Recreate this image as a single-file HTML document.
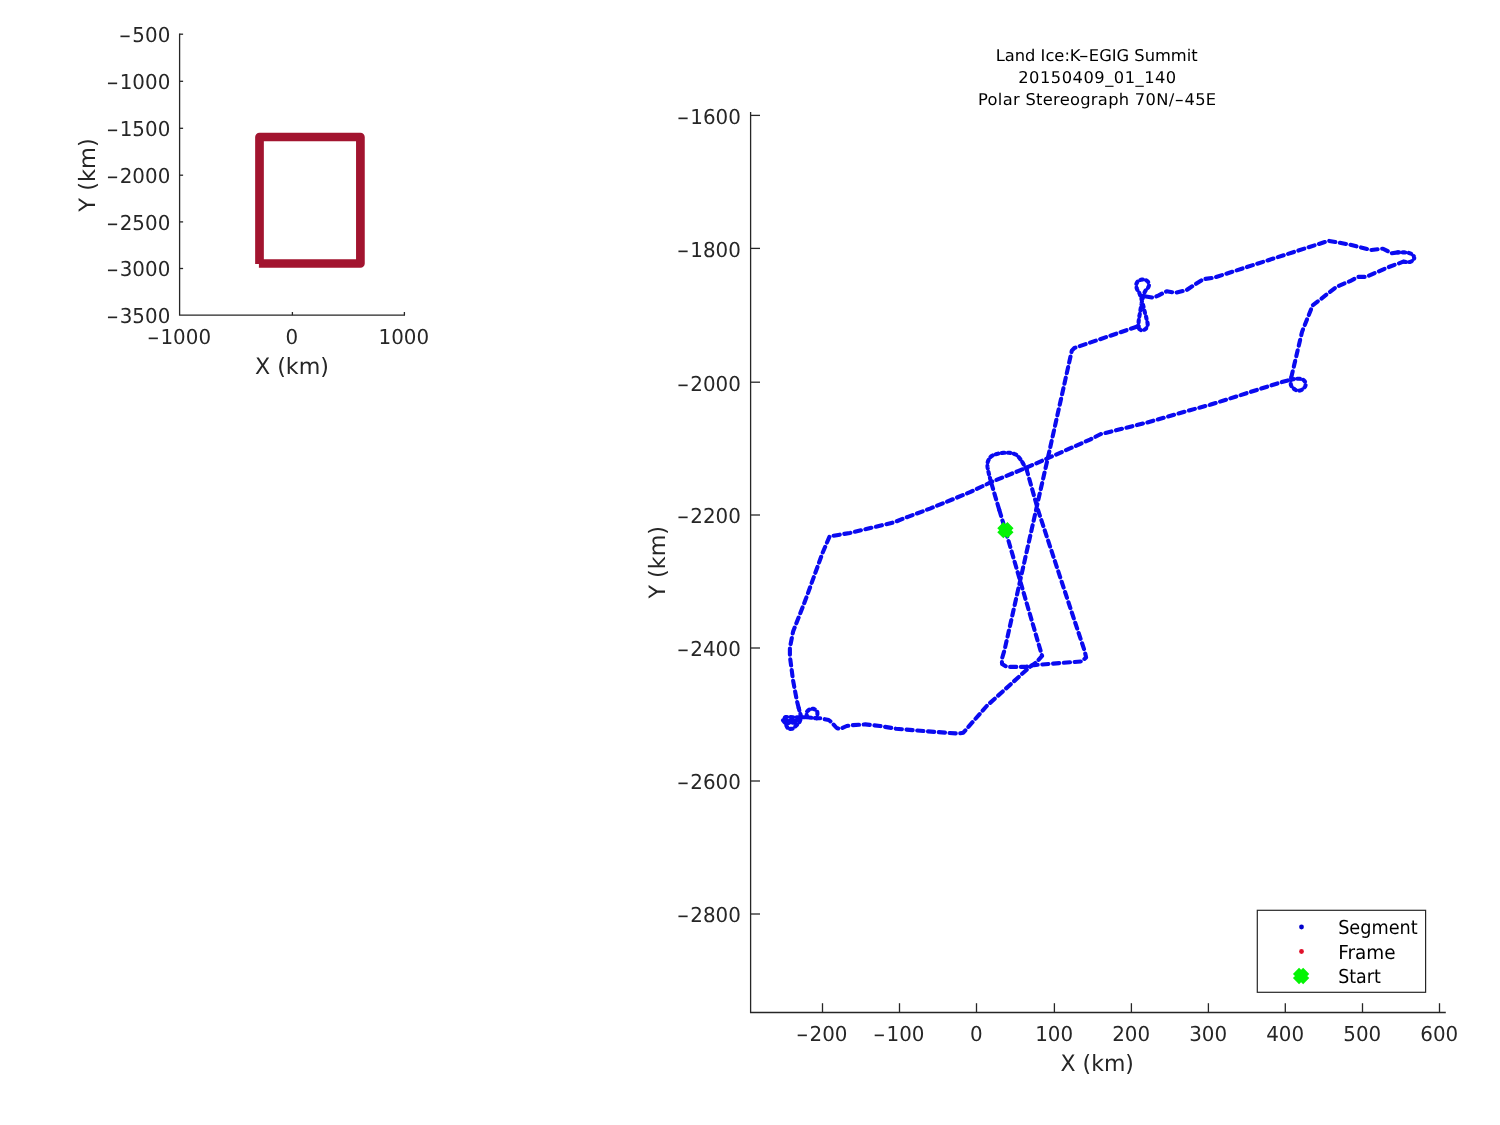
<!DOCTYPE html>
<html lang="en"><head><meta charset="utf-8"><title>Land Ice:K-EGIG Summit 20150409_01_140</title>
<style>html,body{margin:0;padding:0;background:#fff}body{width:1500px;height:1125px;overflow:hidden}svg{display:block}text{font-family:"DejaVu Sans", "Liberation Sans", sans-serif;fill:#262626;text-rendering:geometricPrecision}.t{font-size:20.6px}.l{font-size:22.5px}.ti{font-size:16.3px;fill:#000}.lg{font-size:19.2px;fill:#000}</style></head><body>
<svg width="1500" height="1125" viewBox="0 0 1500 1125">
<rect width="1500" height="1125" fill="#fff"/>
<g stroke="#262626" stroke-width="1.3" fill="none">
<path d="M179.6 33.5V315.2H405"/>
<path d="M179.6 34.2h3.5"/>
<path d="M179.6 81.3h3.5"/>
<path d="M179.6 128.3h3.5"/>
<path d="M179.6 175.2h3.5"/>
<path d="M179.6 221.9h3.5"/>
<path d="M179.6 268.5h3.5"/>
<path d="M292.4 315.2v-3.2"/>
<path d="M404.4 315.2v-3.2"/>
</g>
<text class="t" x="170.30" y="42.10" text-anchor="end"><tspan textLength="12.61" lengthAdjust="spacingAndGlyphs">-</tspan><tspan dx="0.9" textLength="37.94" lengthAdjust="spacingAndGlyphs">500</tspan></text>
<text class="t" x="170.30" y="89.20" text-anchor="end"><tspan textLength="12.61" lengthAdjust="spacingAndGlyphs">-</tspan><tspan dx="0.9" textLength="50.59" lengthAdjust="spacingAndGlyphs">1000</tspan></text>
<text class="t" x="170.30" y="136.20" text-anchor="end"><tspan textLength="12.61" lengthAdjust="spacingAndGlyphs">-</tspan><tspan dx="0.9" textLength="50.59" lengthAdjust="spacingAndGlyphs">1500</tspan></text>
<text class="t" x="170.30" y="183.10" text-anchor="end"><tspan textLength="12.61" lengthAdjust="spacingAndGlyphs">-</tspan><tspan dx="0.9" textLength="50.59" lengthAdjust="spacingAndGlyphs">2000</tspan></text>
<text class="t" x="170.30" y="229.80" text-anchor="end"><tspan textLength="12.61" lengthAdjust="spacingAndGlyphs">-</tspan><tspan dx="0.9" textLength="50.59" lengthAdjust="spacingAndGlyphs">2500</tspan></text>
<text class="t" x="170.30" y="276.40" text-anchor="end"><tspan textLength="12.61" lengthAdjust="spacingAndGlyphs">-</tspan><tspan dx="0.9" textLength="50.59" lengthAdjust="spacingAndGlyphs">3000</tspan></text>
<text class="t" x="170.30" y="323.10" text-anchor="end"><tspan textLength="12.61" lengthAdjust="spacingAndGlyphs">-</tspan><tspan dx="0.9" textLength="50.59" lengthAdjust="spacingAndGlyphs">3500</tspan></text>
<text class="t" x="179.00" y="343.80" text-anchor="middle"><tspan textLength="12.61" lengthAdjust="spacingAndGlyphs">-</tspan><tspan dx="0.9" textLength="50.59" lengthAdjust="spacingAndGlyphs">1000</tspan></text>
<text class="t" x="291.80" y="343.80" text-anchor="middle"><tspan textLength="12.65" lengthAdjust="spacingAndGlyphs">0</tspan></text>
<text class="t" x="403.80" y="343.80" text-anchor="middle"><tspan textLength="50.59" lengthAdjust="spacingAndGlyphs">1000</tspan></text>
<text class="l" x="254.94" y="373.60" textLength="73.97" lengthAdjust="spacingAndGlyphs">X (km)</text>
<g transform="translate(94.8,211.7) rotate(-90)">
<text class="l" x="0.04" y="0.00" textLength="73.49" lengthAdjust="spacingAndGlyphs">Y (km)</text>
</g>
<path d="M259.5 263.9V137H360.4V263.5H258.9" fill="none" stroke="#a2142f" stroke-width="8.7" stroke-linejoin="round" stroke-linecap="butt"/>
<g stroke="#262626" stroke-width="1.3" fill="none">
<path d="M750.6 112V1012.5H1445.8"/>
<path d="M750.6 115.4h9.4"/>
<path d="M750.6 248.4h9.4"/>
<path d="M750.6 382.2h9.4"/>
<path d="M750.6 515h9.4"/>
<path d="M750.6 648h9.4"/>
<path d="M750.6 781h9.4"/>
<path d="M750.6 914h9.4"/>
<path d="M822.5 1012.5v-9.3"/>
<path d="M899.5 1012.5v-9.3"/>
<path d="M976.5 1012.5v-9.3"/>
<path d="M1054.4 1012.5v-9.3"/>
<path d="M1131.4 1012.5v-9.3"/>
<path d="M1208.4 1012.5v-9.3"/>
<path d="M1285.3 1012.5v-9.3"/>
<path d="M1362.5 1012.5v-9.3"/>
<path d="M1439.5 1012.5v-9.3"/>
</g>
<text class="t" x="740.90" y="123.80" text-anchor="end"><tspan textLength="12.61" lengthAdjust="spacingAndGlyphs">-</tspan><tspan dx="0.9" textLength="50.59" lengthAdjust="spacingAndGlyphs">1600</tspan></text>
<text class="t" x="740.90" y="256.80" text-anchor="end"><tspan textLength="12.61" lengthAdjust="spacingAndGlyphs">-</tspan><tspan dx="0.9" textLength="50.59" lengthAdjust="spacingAndGlyphs">1800</tspan></text>
<text class="t" x="740.90" y="390.60" text-anchor="end"><tspan textLength="12.61" lengthAdjust="spacingAndGlyphs">-</tspan><tspan dx="0.9" textLength="50.59" lengthAdjust="spacingAndGlyphs">2000</tspan></text>
<text class="t" x="740.90" y="523.40" text-anchor="end"><tspan textLength="12.61" lengthAdjust="spacingAndGlyphs">-</tspan><tspan dx="0.9" textLength="50.59" lengthAdjust="spacingAndGlyphs">2200</tspan></text>
<text class="t" x="740.90" y="656.40" text-anchor="end"><tspan textLength="12.61" lengthAdjust="spacingAndGlyphs">-</tspan><tspan dx="0.9" textLength="50.59" lengthAdjust="spacingAndGlyphs">2400</tspan></text>
<text class="t" x="740.90" y="789.40" text-anchor="end"><tspan textLength="12.61" lengthAdjust="spacingAndGlyphs">-</tspan><tspan dx="0.9" textLength="50.59" lengthAdjust="spacingAndGlyphs">2600</tspan></text>
<text class="t" x="740.90" y="922.40" text-anchor="end"><tspan textLength="12.61" lengthAdjust="spacingAndGlyphs">-</tspan><tspan dx="0.9" textLength="50.59" lengthAdjust="spacingAndGlyphs">2800</tspan></text>
<text class="t" x="821.70" y="1040.80" text-anchor="middle"><tspan textLength="12.61" lengthAdjust="spacingAndGlyphs">-</tspan><tspan dx="0.9" textLength="37.94" lengthAdjust="spacingAndGlyphs">200</tspan></text>
<text class="t" x="898.70" y="1040.80" text-anchor="middle"><tspan textLength="12.61" lengthAdjust="spacingAndGlyphs">-</tspan><tspan dx="0.9" textLength="37.94" lengthAdjust="spacingAndGlyphs">100</tspan></text>
<text class="t" x="976.30" y="1040.80" text-anchor="middle"><tspan textLength="12.65" lengthAdjust="spacingAndGlyphs">0</tspan></text>
<text class="t" x="1054.20" y="1040.80" text-anchor="middle"><tspan textLength="37.94" lengthAdjust="spacingAndGlyphs">100</tspan></text>
<text class="t" x="1131.20" y="1040.80" text-anchor="middle"><tspan textLength="37.94" lengthAdjust="spacingAndGlyphs">200</tspan></text>
<text class="t" x="1208.20" y="1040.80" text-anchor="middle"><tspan textLength="37.94" lengthAdjust="spacingAndGlyphs">300</tspan></text>
<text class="t" x="1285.10" y="1040.80" text-anchor="middle"><tspan textLength="37.94" lengthAdjust="spacingAndGlyphs">400</tspan></text>
<text class="t" x="1362.30" y="1040.80" text-anchor="middle"><tspan textLength="37.94" lengthAdjust="spacingAndGlyphs">500</tspan></text>
<text class="t" x="1439.30" y="1040.80" text-anchor="middle"><tspan textLength="37.94" lengthAdjust="spacingAndGlyphs">600</tspan></text>
<text class="l" x="1060.55" y="1070.80" textLength="73.34" lengthAdjust="spacingAndGlyphs">X (km)</text>
<g transform="translate(664.8,598.6) rotate(-90)">
<text class="l" x="0.04" y="0.00" textLength="72.57" lengthAdjust="spacingAndGlyphs">Y (km)</text>
</g>
<text class="ti" x="1096.7" y="60.8" text-anchor="middle">Land Ice:K<tspan textLength="10.01" lengthAdjust="spacingAndGlyphs">-</tspan>EGIG Summit</text>
<text class="ti" x="1097.5" y="82.8" text-anchor="middle" letter-spacing="0.5">20150409_01_140</text>
<text class="ti" x="1097.2" y="104.5" text-anchor="middle" letter-spacing="0.3">Polar Stereograph 70N/<tspan textLength="10.01" lengthAdjust="spacingAndGlyphs">-</tspan>45E</text>
<g fill="none" stroke="#0a0af0" stroke-width="4.1" stroke-linejoin="round" stroke-linecap="round" stroke-dasharray="6.2 4.6">
<polyline points="999.3,510.0 1005.4,530.2 1040.6,650.8 1042.1,655.9 1036.9,661.8 1028.9,667.7 1004.7,689.7 986.7,706.0 973.3,721.3 963.3,732.7 958.7,733.6 926.7,731.3 896.0,728.7 880.0,726.0 865.3,724.4 850.7,725.3 846.7,726.0 840.0,729.0 836.7,728.0 831.3,722.0 828.7,720.0 820.7,718.3 816.7,718.3"/>
<polyline points="798.7,708.0 796.7,700.0 793.0,680.0 789.9,656.4 789.9,647.6 793.1,631.6 805.6,599.6 822.4,553.3 829.6,536.4 850.0,532.9 894.4,522.2 907.9,516.8 930.0,508.6 970.0,492.2 992.0,481.7 1023.3,469.0 1047.8,458.2 1090.0,439.6 1100.4,434.2 1146.0,422.8 1190.0,410.2 1210.0,404.8 1280.7,382.4 1291.3,379.5"/>
<polyline points="1291.3,377.3 1302.0,332.0 1312.7,305.3 1336.7,286.7 1350.0,281.2 1358.0,276.9 1366.0,276.9 1387.3,267.6 1403.3,261.7"/>
<polyline points="1398.0,252.4 1391.6,253.2 1383.0,248.7 1371.3,250.0 1350.0,244.7 1328.7,240.8 1256.7,263.9 1214.0,277.7 1203.3,279.2 1190.0,287.7 1186.7,290.0 1175.3,292.7 1166.7,291.3 1158.7,295.3 1153.3,297.7 1144.7,296.3"/>
<polyline points="1136.7,326.7 1074.4,348.0 1071.8,350.7 1047.8,458.2 1038.9,497.3 1011.3,620.0 1004.7,649.3 1001.7,659.6 1002.1,664.0 1006.9,666.9 1025.2,666.9 1034.0,665.1 1081.7,661.4 1086.1,657.4 1084.6,650.8 1074.3,620.0 1038.0,510.0 1026.7,469.7"/>
<polyline points="991.3,483.0 999.3,510.0"/>
</g>
<g fill="none" stroke="#0a0af0" stroke-width="4.1" stroke-linejoin="round" stroke-linecap="round" stroke-dasharray="2.6 3.5">
<polyline points="1026.7,469.7 1026.0,468.6 1025.1,466.9 1024.0,465.0 1022.9,463.1 1021.7,461.2 1020.7,459.7 1019.8,458.5 1019.0,457.4 1018.1,456.5 1017.3,455.6 1016.3,454.9 1015.3,454.3 1014.1,453.8 1012.9,453.4 1011.5,453.1 1010.2,452.9 1008.7,452.8 1007.3,452.7 1005.8,452.7 1004.2,452.8 1002.6,452.9 1001.0,453.2 999.4,453.4 998.0,453.7 996.7,454.0 995.5,454.3 994.3,454.7 993.2,455.1 992.2,455.7 991.3,456.3 990.5,457.1 989.7,458.0 989.1,459.0 988.5,460.1 988.0,461.2 987.7,462.3 987.5,463.4 987.4,464.4 987.4,465.5 987.5,466.7 987.7,468.1 988.0,469.7 988.4,471.7 989.0,474.2 989.7,476.8 990.3,479.3 990.9,481.5 991.3,483.0"/>
<polyline points="1403.3,261.7 1404.0,261.8 1405.0,261.9 1406.2,262.0 1407.5,262.1 1408.7,262.1 1409.7,262.0 1410.6,261.7 1411.5,261.3 1412.3,260.8 1413.0,260.2 1413.6,259.6 1414.0,259.0 1414.2,258.4 1414.2,257.7 1414.0,257.0 1413.8,256.2 1413.4,255.6 1412.9,255.0 1412.3,254.5 1411.6,254.0 1410.8,253.6 1409.8,253.3 1408.8,252.9 1407.6,252.7 1406.1,252.5 1404.4,252.4 1402.5,252.4 1400.6,252.4 1399.1,252.4 1398.0,252.4"/>
<polyline points="1291.3,379.5 1292.1,379.4 1293.3,379.2 1294.7,379.0 1296.2,378.8 1297.6,378.7 1298.8,378.7 1299.9,378.8 1300.9,379.0 1301.8,379.3 1302.7,379.6 1303.5,380.0 1304.1,380.5 1304.6,381.1 1305.1,381.8 1305.4,382.5 1305.6,383.3 1305.7,384.1 1305.7,384.8 1305.5,385.5 1305.2,386.3 1304.7,387.1 1304.2,387.8 1303.6,388.4 1303.0,389.0 1302.3,389.5 1301.6,389.9 1300.8,390.2 1299.9,390.5 1299.1,390.7 1298.3,390.7 1297.5,390.6 1296.6,390.3 1295.8,390.0 1294.9,389.5 1294.2,389.0 1293.5,388.5 1292.9,387.9 1292.3,387.4 1291.8,386.7 1291.4,386.0 1291.0,385.2 1290.8,384.3 1290.7,383.2 1290.7,381.9 1290.9,380.5 1291.1,379.2 1291.2,378.1 1291.3,377.3"/>
<polyline points="1139.0,328.5 1138.8,328.0 1138.6,327.5 1138.5,326.9 1138.5,326.3 1138.5,325.7 1138.5,325.0 1138.5,324.3 1138.5,323.5 1138.6,322.7 1138.6,321.8 1138.7,320.9 1138.8,320.0 1138.9,319.1 1139.1,318.2 1139.2,317.2 1139.4,316.3 1139.6,315.2 1139.8,314.0 1140.0,312.7 1140.3,311.2 1140.5,309.6 1140.8,308.0 1141.0,306.5 1141.3,305.0 1141.6,303.6 1141.8,302.2 1142.1,300.8 1142.4,299.4 1142.7,298.2 1143.0,297.0 1143.3,295.9 1143.6,294.9 1143.9,294.0 1144.2,293.2 1144.6,292.3 1145.0,291.5 1145.5,290.7 1146.1,290.0 1146.7,289.2 1147.3,288.5 1147.9,287.9 1148.3,287.2 1148.6,286.5 1148.8,285.9 1149.0,285.3 1149.1,284.7 1149.1,284.1 1149.0,283.5 1148.8,282.9 1148.5,282.4 1148.0,281.8 1147.6,281.3 1147.0,280.9 1146.5,280.5 1145.9,280.2 1145.3,279.9 1144.6,279.7 1143.9,279.6 1143.2,279.5 1142.5,279.5 1141.8,279.6 1141.1,279.7 1140.4,279.9 1139.7,280.1 1139.1,280.4 1138.5,280.8 1138.0,281.3 1137.5,281.8 1137.1,282.5 1136.7,283.1 1136.4,283.8 1136.2,284.5 1136.1,285.2 1136.2,285.9 1136.3,286.7 1136.5,287.5 1136.7,288.2 1137.0,289.0 1137.3,289.7 1137.7,290.4 1138.1,291.1 1138.6,291.8 1139.1,292.6 1139.5,293.5 1139.9,294.5 1140.3,295.7 1140.8,296.9 1141.2,298.2 1141.6,299.6 1142.0,301.0 1142.4,302.5 1142.8,304.2 1143.3,305.9 1143.7,307.6 1144.1,309.4 1144.5,311.0 1144.9,312.6 1145.3,314.2 1145.8,315.8 1146.2,317.3 1146.5,318.7 1146.8,320.0 1147.1,321.1 1147.3,322.0 1147.5,322.8 1147.6,323.6 1147.7,324.3 1147.6,325.0 1147.4,325.8 1147.2,326.5 1146.8,327.2 1146.4,327.9 1146.0,328.5 1145.5,329.0 1145.0,329.4 1144.4,329.7 1143.8,330.0 1143.2,330.2 1142.6,330.3 1142.0,330.3 1141.4,330.2 1140.9,330.0 1140.3,329.7 1139.8,329.3 1139.3,328.9 1139.0,328.5"/>
<polyline points="1144.7,296.3 1143.2,296.3"/>
<polyline points="1136.7,326.7 1138.5,326.0"/>
<polyline points="798.7,708.0 801.3,717.3 799.3,722.7 792.7,728.7 788.0,729.0 785.3,723.3 782.7,720.0 785.3,717.0 796.7,717.3 807.3,717.3 816.7,718.3"/>
<polyline points="784.5,720.5 799.5,720.3"/>
<polyline points="786.5,723.0 797.0,722.5"/>
<polyline points="807.3,717.3 807.2,716.8 806.9,716.0 806.7,715.1 806.5,714.2 806.4,713.3 806.5,712.5 806.8,711.8 807.3,711.2 808.0,710.6 808.6,710.1 809.3,709.6 810.0,709.3 810.6,709.0 811.3,708.9 812.0,708.8 812.7,708.7 813.4,708.8 814.0,709.0 814.6,709.3 815.3,709.6 815.9,710.1 816.5,710.6 817.0,711.3 817.3,712.0 817.4,712.9 817.4,714.1 817.2,715.3 817.0,716.5 816.8,717.6 816.7,718.3"/>
</g>
<path d="M1000.3 525.1L1010.5 535.3M1010.5 525.1L1000.3 535.3" stroke="#04f404" stroke-width="8.6" stroke-linecap="butt" fill="none"/>
<rect x="1257.3" y="910.3" width="168.3" height="82" fill="#fff" stroke="#262626" stroke-width="1.2"/>
<circle cx="1301.5" cy="927" r="2.4" fill="#0000cc"/>
<circle cx="1301.5" cy="951.5" r="2.4" fill="#e0102a"/>
<path d="M1296.0 970.9L1306.2 981.1M1306.2 970.9L1296.0 981.1" stroke="#04f404" stroke-width="8.6" stroke-linecap="butt" fill="none"/>
<text class="lg" x="1338.13" y="934.00" textLength="79.59" lengthAdjust="spacingAndGlyphs">Segment</text>
<text class="lg" x="1338.23" y="958.60" textLength="57.43" lengthAdjust="spacingAndGlyphs">Frame</text>
<text class="lg" x="1338.15" y="982.70" textLength="42.57" lengthAdjust="spacingAndGlyphs">Start</text>
</svg></body></html>
